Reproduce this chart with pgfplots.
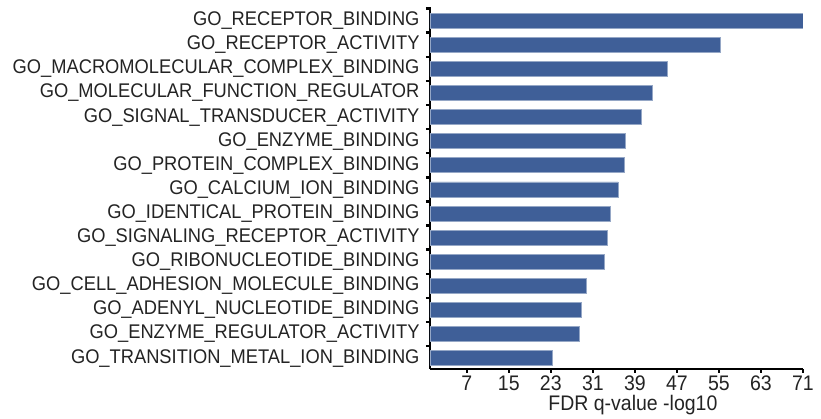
\documentclass[border=0pt]{standalone}
\usepackage{pgfplots}
\pgfplotsset{compat=1.18}
\usepackage{fontspec}
\setmainfont{Liberation Sans}
\definecolor{barblue}{RGB}{63,95,152}
\definecolor{txt}{RGB}{35,35,35}
\newcommand\sy[1]{\scalebox{1}[1.08]{#1}}
\begin{document}
\begin{tikzpicture}
\begin{axis}[
  scale only axis,
  width=373pt, height=361.6pt,
  xbar, bar width=15pt,
  xmin=0, xmax=71, ymin=0.55, ymax=15.55,
  axis lines*=left,
  axis line style={line width=2.5pt, black},
  tick align=outside,
  major tick length=4pt, minor tick length=4pt,
  xtick={7,15,...,71},
  xticklabels={\sy{7},\sy{15},\sy{23},\sy{31},\sy{39},\sy{47},\sy{55},\sy{63},\sy{71}},
  ytick={1,...,15},
  minor ytick={1.5,2.5,...,15.5},
  major y tick style={draw=none},
  minor y tick style={line width=2.5pt, black},
  major x tick style={line width=1.5pt, black},
  yticklabels={\sy{GO\_TRANSITION\_METAL\_ION\_BINDING}, \sy{GO\_ENZYME\_REGULATOR\_ACTIVITY}, \sy{GO\_ADENYL\_NUCLEOTIDE\_BINDING}, \sy{GO\_CELL\_ADHESION\_MOLECULE\_BINDING}, \sy{GO\_RIBONUCLEOTIDE\_BINDING}, \sy{GO\_SIGNALING\_RECEPTOR\_ACTIVITY}, \sy{GO\_IDENTICAL\_PROTEIN\_BINDING}, \sy{GO\_CALCIUM\_ION\_BINDING}, \sy{GO\_PROTEIN\_COMPLEX\_BINDING}, \sy{GO\_ENZYME\_BINDING}, \sy{GO\_SIGNAL\_TRANSDUCER\_ACTIVITY}, \sy{GO\_MOLECULAR\_FUNCTION\_REGULATOR}, \sy{GO\_MACROMOLECULAR\_COMPLEX\_BINDING}, \sy{GO\_RECEPTOR\_ACTIVITY}, \sy{GO\_RECEPTOR\_BINDING}},
  yticklabel style={font=\fontsize{18.3}{20}\selectfont, text=txt, xshift=-3pt},
  xticklabel style={font=\fontsize{19.5}{21}\selectfont, text=txt, inner sep=0pt, anchor=base, yshift=-18pt},
  xlabel={\sy{FDR q-value -log10}},
  xlabel style={font=\fontsize{19.5}{21}\selectfont, text=txt, inner sep=0pt, at={(axis description cs:0.544,0)}, anchor=base, yshift=-42pt},
]
\addplot[fill=barblue, draw=barblue!55, line width=0.6pt] coordinates {
  (23.2,1) (28.5,2) (28.8,3) (29.7,4) (33.1,5) (33.8,6) (34.4,7) (35.8,8)
  (36.9,9) (37.2,10) (40.2,11) (42.3,12) (45.2,13) (55.2,14) (71,15)
};
\coordinate (O) at (rel axis cs:0,0);
\end{axis}
\pgfresetboundingbox
\path[use as bounding box] (O) ++(-430pt,-50pt) rectangle ++(821pt,419pt);
\end{tikzpicture}
\end{document}
